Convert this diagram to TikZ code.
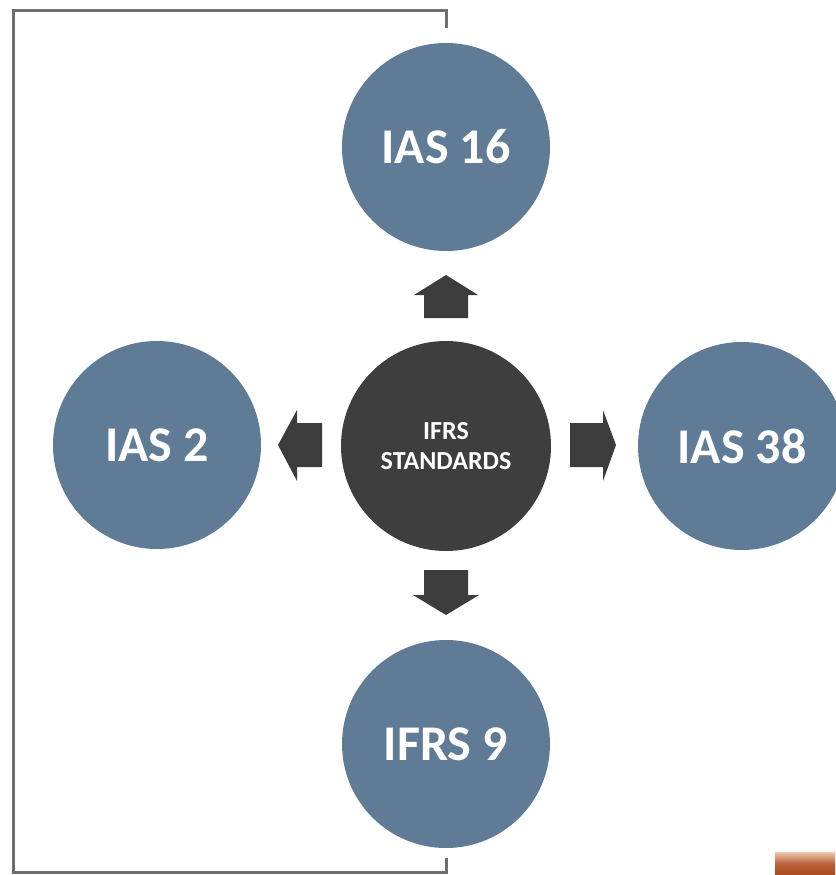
\documentclass[tikz,border=0pt]{standalone}
\usepackage{fontspec}
\setmainfont{Carlito}
\definecolor{slate}{RGB}{96,123,149}
\definecolor{darkhub}{RGB}{62,62,62}
\definecolor{arrowgray}{RGB}{60,60,60}
\definecolor{framegray}{RGB}{110,110,110}
\definecolor{peach}{RGB}{240,200,175}
\definecolor{rust}{RGB}{170,72,28}
\begin{document}
\begin{tikzpicture}[x=1pt,y=-1pt,
  bubble/.style={circle, fill=slate, minimum size=208pt, inner sep=0pt, text=white,
    font=\bfseries\fontsize{50}{60}\selectfont},
  hub/.style={circle, fill=darkhub, minimum size=210pt, inner sep=0pt, text=white, align=center,
    font=\bfseries\fontsize{26}{30}\selectfont},
  blockarrow/.style={fill=arrowgray},
  frameline/.style={draw=framegray, line width=3pt}]
\fill[white] (0,0) rectangle (835,875);
\useasboundingbox (0,0) rectangle (835,875);
% frame
\coordinate (f1) at (446,28);
\coordinate (f2) at (446,11);
\coordinate (f3) at (13,11);
\coordinate (f4) at (13,872);
\coordinate (f5) at (446,872);
\coordinate (f6) at (446,858);
\draw[frameline] (f1) -- (f2) -- (f3) -- (f4) -- (f5) -- (f6);
% nodes
\node[hub] (hub) at (446,446) {IFRS\\STANDARDS};
\node[bubble] (ias16) at (446,147) {IAS 16};
\node[bubble] (ias2) at (157,445) {IAS 2};
\node[bubble] (ias38) at (742,446) {IAS 38};
\node[bubble] (ifrs9) at (446,744) {IFRS 9};
% block arrows
\fill[blockarrow] (424,318) -- (424,295) -- (414,295) -- (446,275) -- (478,295) -- (468,295) -- (468,318) -- cycle;
\fill[blockarrow] (424,570) -- (424,595) -- (413,595) -- (446,615) -- (479,595) -- (468,595) -- (468,570) -- cycle;
\fill[blockarrow] (322,423) -- (297,423) -- (297,410) -- (278,445) -- (297,481) -- (297,467) -- (322,467) -- cycle;
\fill[blockarrow] (570,423) -- (603,423) -- (603,410) -- (616,445) -- (603,481) -- (603,467) -- (570,467) -- cycle;
% corner tab
\shade[top color=peach, bottom color=rust, middle color=rust!80!peach] (775,852) rectangle (835,875);
\end{tikzpicture}
\end{document}
